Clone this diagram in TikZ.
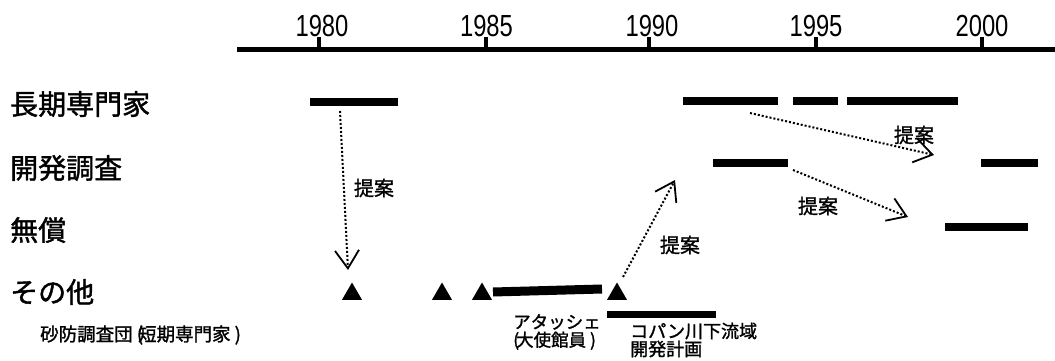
\documentclass[tikz,border=0pt]{standalone}
\usepackage{graphicx}
\usepackage{fontspec}
\setmainfont{Liberation Sans}
\newfontfamily\jp[FakeBold=1.4]{Noto Sans CJK JP}
\usetikzlibrary{arrows.meta,shapes.geometric}
\newcommand{\yrtext}[1]{\scalebox{0.78}[1]{\fontsize{30.5}{30.5}\selectfont #1}}
\tikzset{
  axisline/.style={line width=5pt},
  tickline/.style={line width=3.5pt},
  yearlbl/.style={inner sep=0pt},
  rowlbl/.style={inner sep=0pt,anchor=west,font=\jp\fontsize{28}{28}\selectfont},
  sublbl/.style={inner sep=0pt,anchor=west,font=\jp\fontsize{18.5}{18.5}\selectfont},
  smalllbl/.style={inner sep=0pt,anchor=west,font=\jp\fontsize{17.5}{18}\selectfont,align=left},
  bar/.style={line width=8pt},
  tri/.style={regular polygon,regular polygon sides=3,fill=black,inner sep=0pt,minimum size=23pt},
  prop/.style={dotted,line width=2pt,-{Straight Barb[length=18pt,width=24pt,line width=1.8pt]}},
  proplbl/.style={inner sep=0pt,font=\jp\fontsize{20}{20}\selectfont},
}
\begin{document}
\begin{tikzpicture}[x=1pt,y=-1pt]
\useasboundingbox (0,0) rectangle (1055,361);
% axis
\coordinate (ax0) at (237,49.5);
\coordinate (ax1) at (1055,49.5);
\draw[axisline] (ax0) -- (ax1);
\coordinate (t1980) at (319,49.5);
\coordinate (t1985) at (486,49.5);
\coordinate (t1990) at (649,49.5);
\coordinate (t1995) at (816,49.5);
\coordinate (t2000) at (982,49.5);
\draw[tickline] (t1980) -- ++(0,-12);
\draw[tickline] (t1985) -- ++(0,-12);
\draw[tickline] (t1990) -- ++(0,-12);
\draw[tickline] (t1995) -- ++(0,-12);
\draw[tickline] (t2000) -- ++(0,-12);
\node[yearlbl] (y1980) at (322,26) {\yrtext{1980}};
\node[yearlbl] (y1985) at (486.5,26) {\yrtext{1985}};
\node[yearlbl] (y1990) at (652,26) {\yrtext{1990}};
\node[yearlbl] (y1995) at (816,26) {\yrtext{1995}};
\node[yearlbl] (y2000) at (982,26) {\yrtext{2000}};
% row labels
\node[rowlbl] (r1) at (10,104) {長期専門家};
\node[rowlbl] (r2) at (10,168) {開発調査};
\node[rowlbl] (r3) at (10,230) {無償};
\node[rowlbl] (r4) at (10,292) {その他};
\node[sublbl] (r5) at (40,335) {砂防調査団 (\kern-5pt短期専門家 )};
% bars row 1
\coordinate (b1a) at (310,101.5); \coordinate (b1b) at (398,101.5);
\coordinate (b2a) at (683,101); \coordinate (b2b) at (778,101);
\coordinate (b3a) at (793,101); \coordinate (b3b) at (838,101);
\coordinate (b4a) at (847,101); \coordinate (b4b) at (958,101);
\draw[bar] (b1a) -- (b1b);
\draw[bar] (b2a) -- (b2b);
\draw[bar] (b3a) -- (b3b);
\draw[bar] (b4a) -- (b4b);
% row 2
\coordinate (b5a) at (713,163); \coordinate (b5b) at (788,163);
\coordinate (b6a) at (981,163); \coordinate (b6b) at (1038,163);
\draw[bar] (b5a) -- (b5b);
\draw[bar] (b6a) -- (b6b);
% row 3
\coordinate (b7a) at (945,227); \coordinate (b7b) at (1028,227);
\draw[bar] (b7a) -- (b7b);
% row 4
\node[tri] (tr1) at (352,294) {};
\node[tri] (tr2) at (442,294) {};
\node[tri] (tr3) at (482,294) {};
\node[tri] (tr4) at (617,294) {};
\coordinate (b8a) at (493,292); \coordinate (b8b) at (602,289);
\draw[line width=9pt] (b8a) -- (b8b);
\coordinate (b9a) at (607,314.5); \coordinate (b9b) at (716,314.5);
\draw[line width=6.5pt] (b9a) -- (b9b);
\node[smalllbl] (att) at (513,332) {アタッシェ\\(\kern-3pt大使館員 )};
\node[smalllbl,font=\jp\fontsize{18}{18}\selectfont] (cop) at (630,340) {コパン川下流域\\開発計画};
% arrows
\coordinate (p1s) at (340,111); \coordinate (p1e) at (348,270);
\draw[prop] (p1s) -- (p1e);
\node[proplbl] (l1) at (374,188) {提案};
\coordinate (p2s) at (623,277); \coordinate (p2e) at (675,180);
\draw[prop] (p2s) -- (p2e);
\node[proplbl] (l2) at (680,245) {提案};
\coordinate (p3s) at (750,113); \coordinate (p3e) at (934,155);
\draw[prop] (p3s) -- (p3e);
\node[proplbl] (l3) at (914,135) {提案};
\coordinate (p4s) at (793,170); \coordinate (p4e) at (908,217);
\draw[prop] (p4s) -- (p4e);
\node[proplbl] (l4) at (818,206) {提案};
\end{tikzpicture}
\end{document}
